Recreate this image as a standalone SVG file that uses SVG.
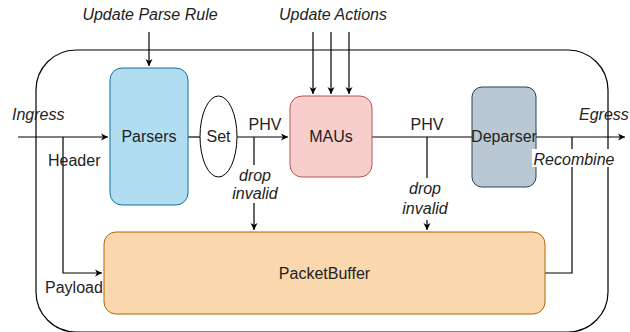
<svg xmlns="http://www.w3.org/2000/svg" width="630" height="332" viewBox="0 0 630 332">
<defs>
<marker id="arr" markerWidth="8" markerHeight="8" refX="7" refY="4" orient="auto" markerUnits="userSpaceOnUse">
<path d="M0,0.5 L7,4 L0,7.5 L2,4 Z" fill="#000"/>
</marker>
</defs>
<style>
text{font-family:"Liberation Sans",Arial,sans-serif;font-size:16px;fill:#222}
.it{font-style:italic}
.ln{fill:none;stroke:#000;stroke-width:1.2}
.lb{fill:#fff}
</style>
<rect width="630" height="332" fill="#fff"/>
<g id="frame"><rect x="36" y="50" width="572" height="282" rx="40" ry="40" fill="none" stroke="#000" stroke-width="1.2"/></g>
<g id="connectors">
<path class="ln" d="M18,137 H108" marker-end="url(#arr)"/>
<path class="ln" d="M188,137 H200"/>
<path class="ln" d="M237,137 H288" marker-end="url(#arr)"/>
<path class="ln" d="M372,137 H472"/>
<path class="ln" d="M536,137 H625" marker-end="url(#arr)"/>
<path class="ln" d="M63,137 V273 H102" marker-end="url(#arr)"/>
<path class="ln" d="M254,137 V230" marker-end="url(#arr)"/>
<path class="ln" d="M427,137 V230" marker-end="url(#arr)"/>
<path class="ln" d="M545,273 H572 V137"/>
<path class="ln" d="M149,32 V66" marker-end="url(#arr)"/>
<path class="ln" d="M313,32 V94" marker-end="url(#arr)"/>
<path class="ln" d="M331,32 V94" marker-end="url(#arr)"/>
<path class="ln" d="M349,32 V94" marker-end="url(#arr)"/>
</g>
<g id="parsers"><rect x="110" y="68" width="78" height="137" rx="12" fill="#b1ddf0" stroke="#10739e"/><text x="149" y="142" text-anchor="middle">Parsers</text></g>
<g id="set"><ellipse cx="218.5" cy="136.5" rx="18.5" ry="40.5" fill="#fff" stroke="#000"/><text x="218.5" y="142" text-anchor="middle">Set</text></g>
<g id="maus"><rect x="290" y="96" width="82" height="81" rx="12" fill="#f8cecc" stroke="#b85450"/><text x="331" y="142" text-anchor="middle">MAUs</text></g>
<g id="deparser"><rect x="472" y="87" width="64" height="100" rx="10" fill="#bac8d3" stroke="#23445d"/><text x="504" y="142" text-anchor="middle">Deparser</text></g>
<g id="packetbuffer"><rect x="104" y="232" width="441" height="82" rx="12" fill="#fad7ac" stroke="#b46504"/><text x="324.5" y="279" text-anchor="middle">PacketBuffer</text></g>
<g id="labels">
<text class="it" x="150" y="20" text-anchor="middle">Update Parse Rule</text>
<text class="it" x="333" y="20" text-anchor="middle">Update Actions</text>
<text class="it" x="12" y="120">Ingress</text>
<text class="it" x="579" y="120">Egress</text>
<text x="48" y="166">Header</text>
<text x="45" y="293">Payload</text>
<text x="265" y="130" text-anchor="middle">PHV</text>
<text x="427" y="130" text-anchor="middle">PHV</text>
<rect class="lb" x="232" y="165" width="46" height="38"/>
<text class="it" x="255" y="181" text-anchor="middle">drop</text>
<text class="it" x="255" y="199" text-anchor="middle">invalid</text>
<rect class="lb" x="403" y="178" width="48" height="42"/>
<text class="it" x="425" y="194" text-anchor="middle">drop</text>
<text class="it" x="425" y="214" text-anchor="middle">invalid</text>
<rect class="lb" x="532" y="149" width="84" height="18"/>
<text class="it" x="574" y="165" text-anchor="middle">Recombine</text>
</g>
</svg>
